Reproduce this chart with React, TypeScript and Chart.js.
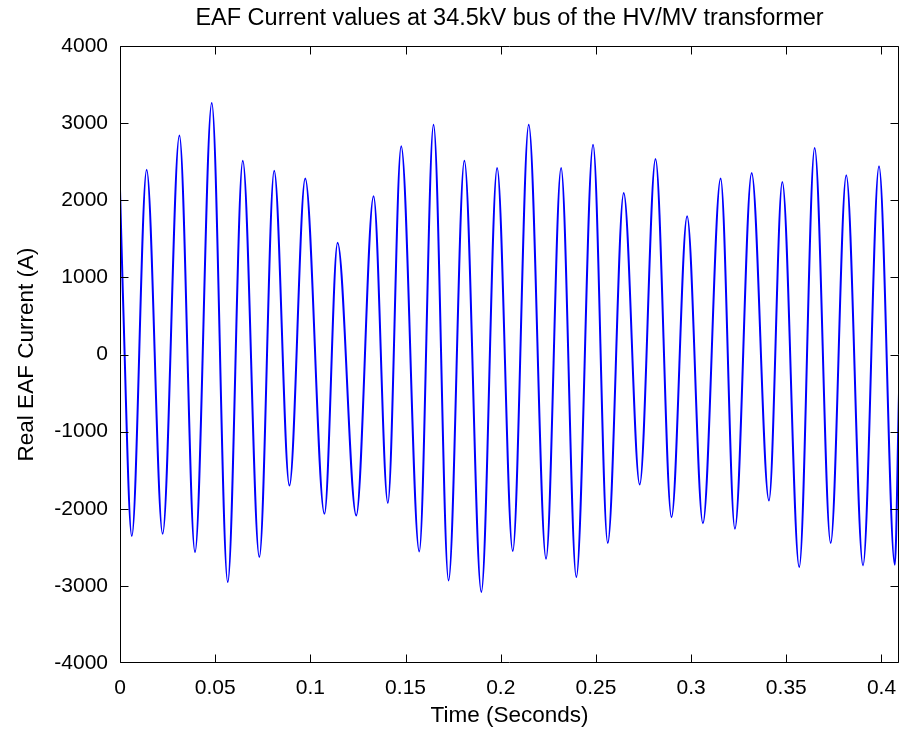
import React, { useEffect, useRef } from "react";
import { Chart, registerables } from "chart.js";

Chart.register(...registerables);

// Time instants (seconds) of the start, the successive troughs/peaks and the end of the trace
const times = [
  0, 0.0015,
  0.0062, 0.014, 0.0224, 0.0312, 0.0394, 0.0482, 0.0566, 0.0645, 0.0732, 0.081,
  0.089, 0.0973, 0.1074, 0.1143, 0.1241, 0.1332, 0.1407, 0.1477, 0.1572, 0.1647,
  0.1726, 0.1809, 0.1898, 0.1981, 0.2063, 0.2147, 0.2238, 0.2317, 0.2397, 0.2485,
  0.2562, 0.2646, 0.273, 0.2813, 0.2897, 0.2979, 0.3062, 0.3155, 0.323, 0.3318,
  0.3409, 0.3479, 0.3568, 0.3649, 0.3733, 0.3815, 0.3903, 0.3987, 0.407, 0.4092,
];

// Real EAF current (A) at those instants
const currents = [
  2140, 800,
  -2354, 2397, -2325, 2841, -2561, 3260, -2950, 2513, -2626, 2384,
  -1700, 2281, -2066, 1449, -2088, 2052, -1924, 2699, -2553, 2979,
  -2929, 2513, -3079, 2419, -2549, 2979, -2648, 2419, -2885, 2720,
  -2445, 2095, -1687, 2535, -2109, 1793, -2187, 2281, -2260, 2354,
  -1894, 2238, -2756, 2678, -2445, 2323, -2735, 2440, -2726, -500,
];

const xMin = 0;
const xMax = 0.4092;
const xStep = 0.05;
const yMin = -4000;
const yMax = 4000;
const yStep = 1000;

const titleText = "EAF Current values at 34.5kV bus of the HV/MV transformer";
const xTitle = "Time (Seconds)";
const yTitle = "Real EAF Current (A)";

const FONT = "'Liberation Sans', Arial, Helvetica, sans-serif";

const framePlugin = {
  id: "matlabFrame",
  afterDraw(chart: any) {
    const { ctx, chartArea } = chart;
    const xs = chart.scales.x;
    const ys = chart.scales.y;
    const L = Math.round(chartArea.left) + 0.5;
    const R = Math.round(chartArea.right) - 0.5;
    const T = Math.round(chartArea.top) + 0.5;
    const B = Math.round(chartArea.bottom) - 0.5;
    const tl = 8;
    const clamp = (v: number, a: number, b: number) => Math.min(Math.max(v, a), b);
    ctx.save();
    ctx.strokeStyle = "#000";
    ctx.lineWidth = 1;
    ctx.beginPath();
    ctx.rect(L, T, R - L, B - T);
    xs.ticks.forEach((t: any) => {
      const px = clamp(Math.round(xs.getPixelForValue(t.value)) + 0.5, L, R);
      ctx.moveTo(px, B);
      ctx.lineTo(px, B - tl);
      ctx.moveTo(px, T);
      ctx.lineTo(px, T + tl);
    });
    ys.ticks.forEach((t: any) => {
      const py = clamp(Math.round(ys.getPixelForValue(t.value)) + 0.5, T, B);
      ctx.moveTo(L, py);
      ctx.lineTo(L + tl, py);
      ctx.moveTo(R, py);
      ctx.lineTo(R - tl, py);
    });
    ctx.stroke();
    ctx.restore();
  },
};

export default function App() {
  const canvasRef = useRef<HTMLCanvasElement | null>(null);

  useEffect(() => {
    if (!canvasRef.current) return;
    const points = times.map((t, i) => ({ x: t, y: currents[i] }));
    const chart = new Chart(canvasRef.current, {
      type: "line",
      data: {
        datasets: [
          {
            data: points,
            borderColor: "#0000ff",
            borderWidth: 2,
            pointRadius: 0,
            fill: false,
            cubicInterpolationMode: "monotone",
          },
        ],
      },
      options: {
        responsive: false,
        animation: false,
        layout: { padding: { left: 0, right: 4, top: 0, bottom: 0 } },
        plugins: {
          legend: { display: false },
          tooltip: { enabled: false },
          title: { display: false },
        },
        scales: {
          x: {
            type: "linear",
            min: xMin,
            max: xMax,
            grid: { display: false },
            border: { display: false },
            ticks: {
              stepSize: xStep,
              includeBounds: false,
              autoSkip: false,
              maxRotation: 0,
              padding: 5,
              color: "#000",
              font: { family: FONT, size: 21 },
              callback: (v: any) => String(Number(Number(v).toFixed(2))),
            },
            title: {
              display: true,
              text: xTitle,
              color: "#000",
              font: { family: FONT, size: 22.5 },
              padding: { top: 0, bottom: 3 },
            },
            afterFit: (s: any) => {
              s.height = 69;
            },
          },
          xTop: {
            type: "linear",
            position: "top",
            min: xMin,
            max: xMax,
            grid: { display: false },
            border: { display: false },
            ticks: { display: false },
            title: {
              display: true,
              text: titleText,
              color: "#000",
              font: { family: FONT, size: 23.5 },
              padding: { top: 4.9, bottom: 0 },
            },
            afterFit: (s: any) => {
              s.height = 46;
            },
          },
          y: {
            type: "linear",
            min: yMin,
            max: yMax,
            grid: { display: false },
            border: { display: false },
            ticks: {
              stepSize: yStep,
              padding: 4,
              color: "#000",
              font: { family: FONT, size: 21 },
              callback: (v: any) => String(v),
            },
            title: {
              display: true,
              text: yTitle,
              color: "#000",
              font: { family: FONT, size: 22.5 },
              padding: { top: 13, bottom: 0 },
            },
            afterFit: (s: any) => {
              s.width = 120;
            },
          },
        },
      },
      plugins: [framePlugin],
    });
    return () => chart.destroy();
  }, []);

  return (
    <div style={{ position: "absolute", left: 0, top: 0, width: 903, height: 732, background: "#fff" }}>
      <canvas ref={canvasRef} width={903} height={732} style={{ display: "block" }} />
    </div>
  );
}
